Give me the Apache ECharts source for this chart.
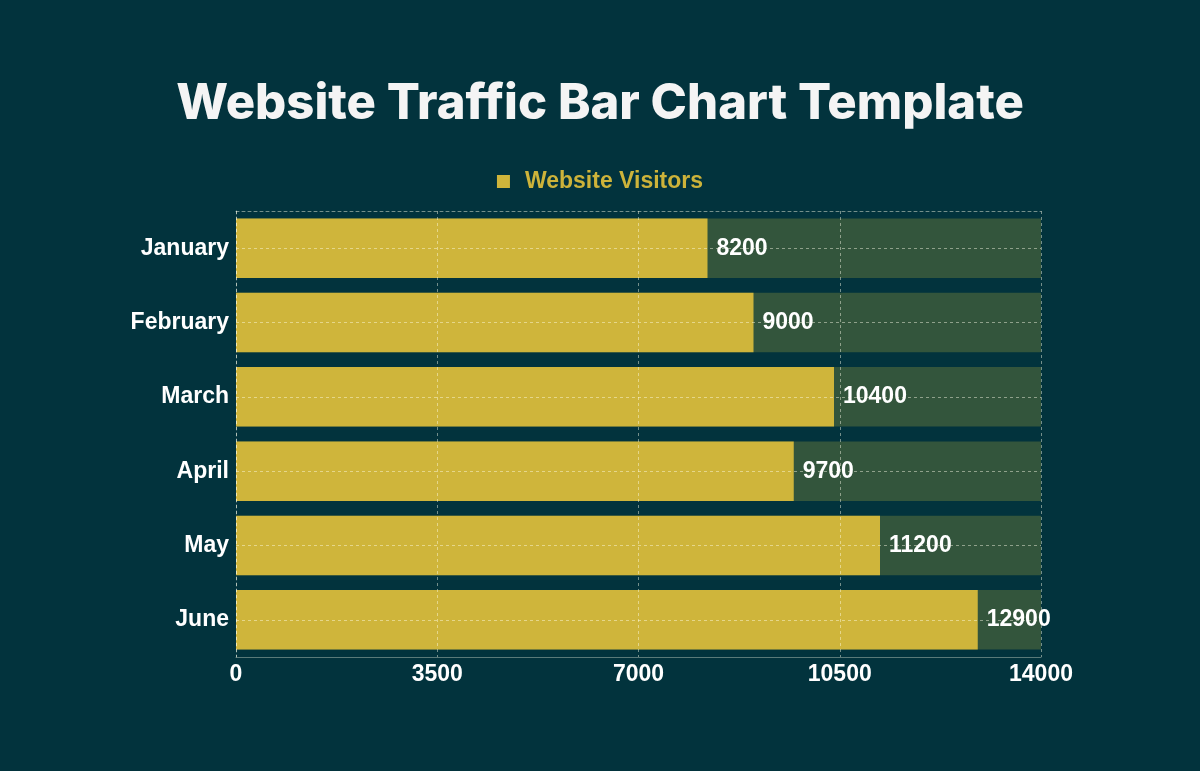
<!DOCTYPE html>
<html>
<head>
<meta charset="utf-8">
<style>
  html, body { margin: 0; padding: 0; background: #02333d; }
  #chart { width: 1200px; height: 771px; }
</style>
<script src="https://cdn.jsdelivr.net/npm/echarts@6/dist/echarts.min.js"></script>
</head>
<body>
<div id="chart"></div>
<script>
// data
var months = ['January', 'February', 'March', 'April', 'May', 'June']
var visitors = [8200, 9000, 10400, 9700, 11200, 12900]
var xTicks = [0, 3500, 7000, 10500, 14000]

var chart = echarts.init(document.getElementById('chart'))

var gridLine = { color: 'rgba(255,255,235,0.45)', type: [3, 3], width: 1 }

var option = {
    backgroundColor: '#02333d',
    title: {
        text: 'Website Traffic Bar Chart Template',
        left: 'center',
        top: 75,
        textStyle: {
            color: '#f4f4f4',
            fontFamily: 'Inter',
            fontWeight: 800,
            fontSize: 49
        }
    },
    legend: {
        top: 165,
        left: 'center',
        icon: 'rect',
        itemWidth: 13,
        itemHeight: 13,
        textStyle: {
            color: '#cdb33a',
            fontFamily: 'Liberation Sans',
            fontWeight: 'bold',
            fontSize: 23,
            padding: [0, 0, 0, 10]
        },
        data: ['Website Visitors']
    },
    grid: {
        left: 236,
        right: 159,
        top: 211,
        bottom: 114,
        containLabel: false
    },
    xAxis: [
        {
            type: 'value',
            min: 0,
            max: 14000,
            interval: 3500,
            z: 5,
            axisLine: { show: true, lineStyle: { color: 'rgba(255,255,235,0.35)', width: 1 } },
            axisTick: { show: false },
            splitLine: { show: true, lineStyle: gridLine },
            axisLabel: {
                color: '#ffffff',
                fontFamily: 'Liberation Sans',
                fontWeight: 'bold',
                fontSize: 23,
                margin: 6,
                formatter: function (v) { return xTicks.indexOf(v) >= 0 ? String(v) : '' }
            }
        },
        {
            type: 'value',
            position: 'top',
            min: 0,
            max: 14000,
            z: 5,
            axisLine: { show: true, lineStyle: gridLine },
            axisTick: { show: false },
            axisLabel: { show: false },
            splitLine: { show: false }
        }
    ],
    yAxis: {
        type: 'category',
        inverse: true,
        data: months,
        z: 5,
        axisLine: { show: true, lineStyle: gridLine },
        axisTick: { show: false },
        splitLine: { show: true, alignWithLabel: true, lineStyle: gridLine },
        axisLabel: {
            color: '#ffffff',
            fontFamily: 'Liberation Sans',
            fontWeight: 'bold',
            fontSize: 23,
            margin: 7
        }
    },
    series: [
        {
            name: 'Website Visitors',
            type: 'bar',
            data: visitors,
            barCategoryGap: '20%',
            showBackground: true,
            backgroundStyle: { color: '#33553c' },
            itemStyle: { color: '#cfb53b' },
            label: {
                show: true,
                position: 'right',
                distance: 9,
                color: '#ffffff',
                fontFamily: 'Liberation Sans',
                fontWeight: 'bold',
                fontSize: 23
            }
        }
    ]
}

chart.setOption(option)
</script>
</body>
</html>
